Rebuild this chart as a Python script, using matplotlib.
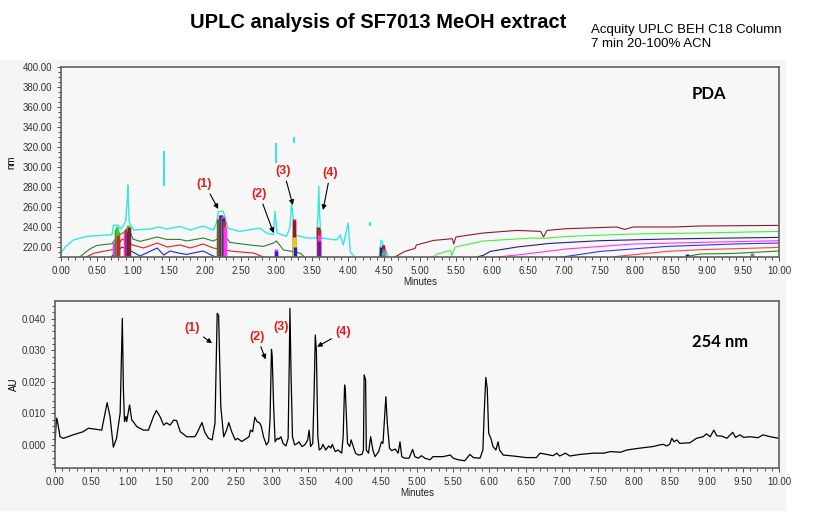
import matplotlib
matplotlib.use("Agg")
import matplotlib.pyplot as plt
from matplotlib.patches import Rectangle
from matplotlib.ticker import MultipleLocator, FormatStrFormatter

plt.rcParams["font.family"] = ["Liberation Sans", "DejaVu Sans"]

# =========================
# Data: 254 nm chromatogram (minutes, AU)
# =========================
trace_t = [0.00, 0.02, 0.03, 0.07, 0.115, 0.25, 0.39, 0.46, 0.645, 0.69, 0.72, 0.76,
           0.806, 0.85, 0.90, 0.92, 0.93, 0.945, 0.96, 0.98, 0.99, 1.03, 1.06, 1.08,
           1.13, 1.22, 1.29, 1.36, 1.40, 1.45, 1.50, 1.54, 1.59, 1.64, 1.68, 1.73,
           1.82, 1.93, 1.96, 2.03, 2.07, 2.12, 2.17, 2.21, 2.24, 2.26, 2.29, 2.33,
           2.37, 2.40, 2.44, 2.49, 2.52, 2.58, 2.68, 2.70, 2.73, 2.76, 2.79, 2.83,
           2.85, 2.88, 2.92, 2.95, 2.97, 2.99, 3.00, 3.02, 3.04, 3.07, 3.09, 3.12,
           3.15, 3.19, 3.22, 3.235, 3.245, 3.26, 3.28, 3.31, 3.35, 3.37, 3.41, 3.45,
           3.49, 3.51, 3.53, 3.56, 3.58, 3.595, 3.61, 3.63, 3.65, 3.68, 3.70, 3.74,
           3.78, 3.81, 3.83, 3.87, 3.91, 3.96, 3.98, 4.00, 4.01, 4.04, 4.07, 4.09,
           4.12, 4.15, 4.19, 4.24, 4.26, 4.27, 4.29, 4.30, 4.33, 4.36, 4.39, 4.42,
           4.47, 4.51, 4.53, 4.57, 4.59, 4.62, 4.65, 4.70, 4.74, 4.765, 4.79, 4.83,
           4.89, 4.94, 4.97, 5.02, 5.06, 5.11, 5.18, 5.22, 5.36, 5.46, 5.50, 5.57,
           5.66, 5.73, 5.78, 5.87, 5.91, 5.93, 5.95, 5.97, 5.99, 6.02, 6.05, 6.09,
           6.12, 6.14, 6.19, 6.33, 6.51, 6.65, 6.70, 6.79, 6.88, 6.93, 6.97, 7.05,
           7.11, 7.25, 7.44, 7.58, 7.67, 7.81, 7.90, 8.08, 8.26, 8.35, 8.40, 8.45,
           8.49, 8.52, 8.55, 8.59, 8.63, 8.77, 8.86, 8.95, 9.00, 9.05, 9.10, 9.14,
           9.21, 9.28, 9.36, 9.40, 9.46, 9.51, 9.60, 9.71, 9.78, 9.88, 10.00]
trace_au = [0.0005, 0.0085, 0.0080, 0.0026, 0.0021, 0.0032, 0.0042, 0.0053, 0.0047, 0.0100, 0.0134, 0.0090,
            -0.0007, 0.0021, 0.0101, 0.0300, 0.0401, 0.0174, 0.0074, 0.0090, 0.0074, 0.0127, 0.0079, 0.0074,
            0.0058, 0.0047, 0.0047, 0.0090, 0.0109, 0.0090, 0.0063, 0.0070, 0.0063, 0.0079, 0.0077, 0.0042,
            0.0026, 0.0026, 0.0037, 0.0071, 0.0040, 0.0021, 0.0016, 0.0069, 0.0417, 0.0410, 0.0121, 0.0026,
            0.0047, 0.0071, 0.0042, 0.0016, 0.0021, 0.0011, 0.0026, 0.0047, 0.0042, 0.0088, 0.0074, 0.0069,
            0.0058, 0.0026, 0.0000, 0.0010, 0.0079, 0.0303, 0.0280, 0.0121, 0.0010, 0.0021, 0.0018, 0.0026,
            0.0005, -0.0003, 0.0021, 0.0250, 0.0433, 0.0227, 0.0026, 0.0000, 0.0005, 0.0010, -0.0005, 0.0000,
            0.0016, 0.0047, -0.0005, 0.0005, 0.0174, 0.0348, 0.0300, 0.0026, -0.0016, -0.0010, 0.0002, -0.0016,
            -0.0003, -0.0010, 0.0002, -0.0021, -0.0016, -0.0026, 0.0026, 0.0190, 0.0174, 0.0005, -0.0005, 0.0016,
            -0.0005, -0.0026, -0.0032, -0.0030, -0.0016, 0.0222, 0.0206, -0.0016, -0.0026, 0.0026, -0.0016, -0.0037,
            -0.0021, 0.0010, 0.0005, 0.0153, 0.0069, -0.0010, -0.0018, -0.0013, -0.0026, 0.0010, -0.0037, -0.0042,
            -0.0042, -0.0014, -0.0037, -0.0042, -0.0034, -0.0042, -0.0047, -0.0037, -0.0037, -0.0032, -0.0042, -0.0047,
            -0.0050, -0.0030, -0.0040, -0.0042, -0.0016, 0.0111, 0.0214, 0.0180, 0.0037, 0.0021, -0.0005, -0.0016,
            0.0010, -0.0016, -0.0032, -0.0035, -0.0040, -0.0040, -0.0026, -0.0030, -0.0034, -0.0026, -0.0035, -0.0026,
            -0.0035, -0.0030, -0.0026, -0.0026, -0.0021, -0.0023, -0.0016, -0.0010, -0.0005, 0.0000, 0.0002, -0.0003,
            0.0002, 0.0021, 0.0010, 0.0016, 0.0005, 0.0007, 0.0021, 0.0026, 0.0035, 0.0026, 0.0047, 0.0029,
            0.0028, 0.0021, 0.0040, 0.0024, 0.0032, 0.0024, 0.0026, 0.0023, 0.0032, 0.0026, 0.0021]

# =========================
# Data: PDA contour lines (minutes, nm)
# =========================
cyan_t = [0.00, 0.06, 0.17, 0.36, 0.71, 0.73, 0.79, 0.84, 0.90, 0.925, 0.93, 0.935, 0.95, 1.01,
          1.24, 1.36, 1.47, 1.66, 1.80, 1.98, 2.12, 2.17, 2.19, 2.26, 2.30, 2.33, 2.49, 2.77,
          2.86, 2.96, 2.98, 3.01, 3.14, 3.19, 3.21, 3.24, 3.26, 3.42, 3.56, 3.58, 3.59, 3.60,
          3.62, 3.84, 3.89, 3.93, 4.00, 4.03, 4.07, 4.09]
cyan_nm = [214, 220, 227, 230.6, 232.3, 241.6, 242, 238, 245.6, 270, 282, 270, 245, 237,
           238, 240, 238, 240.6, 237, 241, 237, 245, 255.6, 255.6, 245, 238.6, 235.6, 239,
           234, 232.3, 255.6, 234, 230.6, 240, 264, 245, 232, 229, 229, 255, 280.6, 255,
           229, 227, 232, 222, 244, 215, 212, 210]
cyan2_t = [4.43, 4.46, 4.49, 4.53, 4.56]
cyan2_nm = [210, 227, 222, 215, 210]
cyan_blob_t = [1.43, 2.99, 3.25, 4.30]
cyan_blob_lo = [281, 304, 324, 241]
cyan_blob_hi = [316, 324, 330, 245]

dgreen_t = [0.26, 0.40, 0.50, 0.71, 0.76, 0.78, 0.82, 0.88, 0.94, 1.00, 1.10, 1.34, 1.47, 1.66,
            1.75, 1.98, 2.12, 2.18, 2.32, 2.35, 2.68, 2.82, 2.96, 3.00, 3.10, 3.19, 3.34, 3.39]
dgreen_nm = [210, 218, 221.6, 223.3, 228, 240, 232, 235, 240, 228, 225.6, 230, 227.6, 227.6,
             226, 229, 226, 228, 228, 224.6, 221.6, 220.6, 224, 226, 217, 216, 213.6, 210]
red_t = [0.35, 0.47, 0.66, 0.76, 0.85, 1.00, 1.15, 1.34, 1.48, 1.66, 1.80, 1.98, 2.12, 2.40, 2.68, 2.82]
red_nm = [210, 214, 216.6, 218, 228, 222, 219, 224, 220, 222, 219, 223, 219, 215.6, 214, 210]
blue_t = [0.70, 0.73, 0.85, 1.00, 1.10, 1.34, 1.43, 1.52, 1.66, 1.75, 1.98, 2.12, 2.16]
blue_nm = [210, 212.6, 220, 215, 211, 219, 212, 216, 213.6, 212.6, 216, 211, 210]

dred_t = [4.65, 4.79, 4.93, 4.95, 5.19, 5.45, 5.47, 5.50, 5.88, 6.35, 6.68, 6.72, 6.77, 7.04,
          7.74, 7.85, 7.97, 8.53, 8.90, 10.0]
dred_nm = [210, 215.6, 218.6, 222, 226.6, 228.3, 223, 230, 234, 236.6, 235.6, 230, 236.6, 238.3,
           240, 237.6, 240, 240, 241, 241.6]
lgreen_t = [5.19, 5.24, 5.43, 5.44, 5.49, 5.88, 6.58, 6.72, 7.04, 7.97, 8.90, 10.0]
lgreen_nm = [210, 213, 216.6, 211, 220, 226, 229, 228.6, 230.6, 233, 234, 235.6]
navy_t = [5.79, 5.88, 5.98, 6.35, 6.81, 7.51, 8.44, 9.37, 10.0]
navy_nm = [210, 211.6, 215.6, 220, 223.6, 226.3, 228, 229, 229.6]
magenta_t = [6.08, 6.35, 7.04, 7.97, 8.90, 10.0]
magenta_nm = [210, 212, 218, 223, 224.6, 226.3]
blue2_t = [6.95, 7.04, 7.51, 8.44, 9.37, 10.0]
blue2_nm = [210, 210.6, 215.6, 220.6, 223, 224]
red2_t = [7.70, 7.74, 8.44, 8.90, 10.0]
red2_nm = [210, 210.6, 215.6, 217.3, 219.6]
dgreen2_t = [8.72, 8.90, 9.37, 10.0]
dgreen2_nm = [210.6, 213, 213.6, 216]

# peak clusters (dense contour rings near the peak apex)
peak_t = [0.74, 0.76, 0.78, 0.79, 0.80, 0.89, 0.91, 0.93, 0.94, 0.95,
          2.19, 2.21, 2.22, 2.23, 2.24, 2.25, 2.26, 2.27, 2.28,
          2.99, 3.00, 3.24, 3.25, 3.245, 3.255, 3.58, 3.59, 3.60, 3.595,
          4.46, 4.48, 4.50, 4.49, 8.72, 9.62]
peak_top = [225, 238, 240, 228, 232, 235, 238, 242, 236, 240,
            248, 250, 252, 252, 250, 251, 249, 246, 240,
            218, 216, 248, 246, 230, 220, 240, 238, 232, 226,
            220, 222, 218, 215, 213, 214]
peak_color = ["#ff33ff", "#2e7d2e", "#22dd22", "#2222dd", "#e02020",
              "#ff33ff", "#e02020", "#22dd22", "#2222dd", "#8b1c2c",
              "#2e7d2e", "#ff33ff", "#e02020", "#202080", "#22dd22", "#ff33ff", "#2222dd", "#e02020", "#ff33ff",
              "#ff33ff", "#2222dd", "#e02020", "#8b1c2c", "#e8d000", "#2222dd",
              "#8b1c2c", "#e02020", "#ff33ff", "#6020a0",
              "#202080", "#8b1c2c", "#ff33ff", "#22dd22", "#202080", "#808080"]

labels = ["(1)", "(2)", "(3)", "(4)"]
pda_text_t = [2.00, 2.76, 3.10, 3.75]
pda_text_nm = [283, 273, 296, 294]
pda_tip_t = [2.19, 2.96, 3.23, 3.65]
pda_tip_nm = [258, 234, 262, 257]
uv_text_t = [1.89, 2.79, 3.12, 3.98]
uv_text_au = [0.0369, 0.0343, 0.0373, 0.0357]
uv_tip_t = [2.17, 2.91, None, 3.62]
uv_tip_au = [0.0322, 0.0271, None, 0.0311]


def style_axis(ax):
    ax.set_facecolor("#f7f7f7")
    for side in ax.spines:
        ax.spines[side].set_color("#606060")
        ax.spines[side].set_linewidth(1.2)
    ax.set_xlim(0, 10)
    ax.xaxis.set_major_locator(MultipleLocator(0.5))
    ax.xaxis.set_minor_locator(MultipleLocator(0.1))
    ax.xaxis.set_major_formatter(FormatStrFormatter("%.2f"))
    ax.tick_params(which="both", direction="out", labelsize=7, colors="#333333", width=0.6)
    ax.tick_params(which="major", length=3)
    ax.tick_params(which="minor", length=2)
    ax.set_xlabel("Minutes", fontsize=7, labelpad=1, color="#222222")


def mark_peaks(ax, text_x, text_y, tip_x, tip_y):
    for lab, tx, ty, px, py in zip(labels, text_x, text_y, tip_x, tip_y):
        if px is None:
            ax.text(tx, ty, lab, ha="center", va="center", color="#e02020",
                    fontsize=9, fontweight="bold")
            continue
        ax.annotate(lab, xy=(px, py), xytext=(tx, ty), ha="center", va="center",
                    color="#e02020", fontsize=9, fontweight="bold",
                    arrowprops=dict(arrowstyle="-|>", color="black", lw=0.8,
                                    shrinkA=1, shrinkB=0, mutation_scale=7))


fig = plt.figure(figsize=(8.28, 5.16), dpi=100)
fig.patches.append(Rectangle((0, 1 - 510 / 516), 785 / 828, 450 / 516,
                             transform=fig.transFigure, color="#f5f5f5", zorder=-1))

fig.text(378 / 828, 1 - 23 / 516, "UPLC analysis of SF7013 MeOH extract",
         ha="center", va="center", fontsize=14.5, fontweight="bold")
fig.text(591 / 828, 1 - 30 / 516, "Acquity UPLC BEH C18 Column", ha="left", va="center", fontsize=9.5)
fig.text(591 / 828, 1 - 44 / 516, "7 min 20-100% ACN", ha="left", va="center", fontsize=9.5)

# =========================
# Top: PDA contour
# =========================
ax1 = fig.add_axes([61 / 828, 1 - 257 / 516, 718 / 828, 190 / 516])
style_axis(ax1)
ax1.set_ylim(210, 400)
ax1.yaxis.set_major_locator(MultipleLocator(20))
ax1.yaxis.set_minor_locator(MultipleLocator(5))
ax1.yaxis.set_major_formatter(FormatStrFormatter("%.2f"))
ax1.set_ylabel("nm", fontsize=7, labelpad=4)

ax1.plot(cyan_t, cyan_nm, color="#33e6e6", lw=1.0)
ax1.plot(cyan2_t, cyan2_nm, color="#33e6e6", lw=1.0)
ax1.vlines(cyan_blob_t, cyan_blob_lo, cyan_blob_hi, color="#33e6e6", lw=1.5)
ax1.plot(dgreen_t, dgreen_nm, color="#2e7d2e", lw=0.8)
ax1.plot(red_t, red_nm, color="#e02020", lw=0.8)
ax1.plot(blue_t, blue_nm, color="#2222dd", lw=0.8)
ax1.plot(dred_t, dred_nm, color="#8b1c2c", lw=0.8)
ax1.plot(lgreen_t, lgreen_nm, color="#44ee44", lw=0.8)
ax1.plot(navy_t, navy_nm, color="#202080", lw=0.8)
ax1.plot(magenta_t, magenta_nm, color="#ff33ff", lw=0.8)
ax1.plot(blue2_t, blue2_nm, color="#3333ff", lw=0.8)
ax1.plot(red2_t, red2_nm, color="#ff4444", lw=0.8)
ax1.plot(dgreen2_t, dgreen2_nm, color="#228b22", lw=0.8)
ax1.vlines(peak_t, 210, peak_top, colors=peak_color, lw=2.5)

mark_peaks(ax1, pda_text_t, pda_text_nm, pda_tip_t, pda_tip_nm)
ax1.text(709 / 828, 1 - 94 / 516, "PDA", transform=fig.transFigure,
         ha="center", va="center", fontsize=12, fontweight="bold", family="Lato")

# =========================
# Bottom: 254 nm chromatogram
# =========================
ax2 = fig.add_axes([55 / 828, 1 - 468 / 516, 724 / 828, 167 / 516])
style_axis(ax2)
ax2.set_ylim(-0.0073, 0.0456)
ax2.yaxis.set_major_locator(MultipleLocator(0.01))
ax2.yaxis.set_minor_locator(MultipleLocator(0.002))
ax2.yaxis.set_major_formatter(FormatStrFormatter("%.3f"))
ax2.set_ylabel("AU", fontsize=7, labelpad=2)

ax2.plot(trace_t, trace_au, color="black", lw=0.9)

mark_peaks(ax2, uv_text_t, uv_text_au, uv_tip_t, uv_tip_au)
ax2.text(720 / 828, 1 - 342 / 516, "254 nm", transform=fig.transFigure,
         ha="center", va="center", fontsize=12, fontweight="bold", family="Lato")

fig.savefig("out.png", dpi=100)
